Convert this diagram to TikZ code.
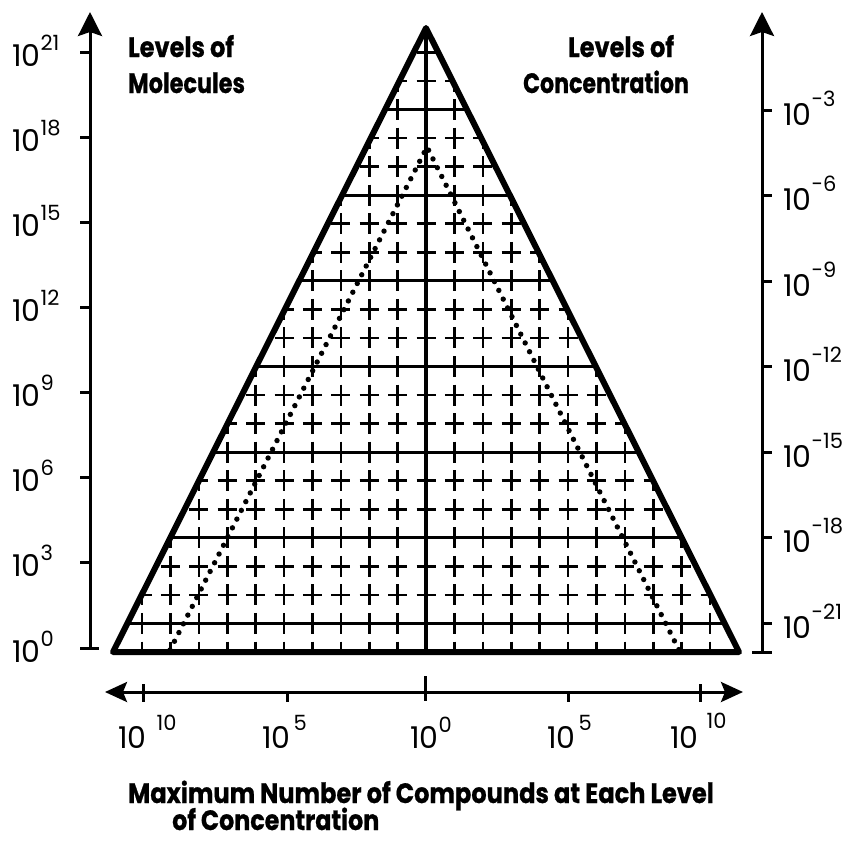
\documentclass[tikz,border=0pt]{standalone}
\usepackage{fontspec}
\setmainfont{Poppins}[BoldFeatures={FakeBold=0.8}]
\usetikzlibrary{arrows.meta,calc}
\newcommand\supnum[2]{\raisebox{#1}{\fontsize{21}{21}\selectfont #2}}
\newcommand\sqz[2]{\scalebox{#1}[1]{#2}}
\begin{document}
\begin{tikzpicture}[x=1pt,y=-1pt,
  tri/.style={line width=6pt,line join=round},
  hline/.style={line width=3.2pt},
  crossmk/.style={line width=2.6pt},
  axis/.style={line width=3pt},
  tickmk/.style={line width=3pt},
  dots/.style={line width=5.4pt,line cap=round,dash pattern=on 0pt off 9.8pt},
  num/.style={inner sep=0pt,anchor=base west,font=\fontsize{30}{30}\selectfont},
  lab/.style={inner sep=0pt,anchor=base west,font=\bfseries\fontsize{28}{28}\selectfont},
  bigtip/.style={-{Stealth[length=24pt,width=24pt,inset=4pt]}},
  bothtip/.style={{Stealth[length=22pt,width=20pt,inset=4pt]}-{Stealth[length=22pt,width=20pt,inset=4pt]}},
]
\useasboundingbox[fill=white] (0,0) rectangle (851,844);

% triangle corners
\coordinate (apex) at (426,28);
\coordinate (bl) at (113,652);
\coordinate (br) at (739,652);
\coordinate (bot) at (426,652);

% crosses
\begin{scope}
\clip (bl) -- (apex) -- (br) -- cycle;
\foreach \k in {0,...,21}{
  \foreach \i in {-11,...,11}{
    \draw[crossmk] ({426+\i*28.4-9.5},{652-\k*28.55}) -- ++(19,0)
                   ({426+\i*28.4},{652-\k*28.55-10.5}) -- ++(0,21);
  }
}
\end{scope}

% horizontal level lines
\foreach \k in {1,4,...,19}{
  \pgfmathsetmacro\tt{\k*28.55/624}
  \draw[hline] ($(bl)!\tt!(apex)$) -- ($(br)!\tt!(apex)$);
}
% centre line
\draw[hline,line width=3.6pt] (apex) -- (bot);

% dotted lines
\coordinate (dtop) at (427,147);
\coordinate (dl) at (170,650);
\coordinate (dr) at (679,650);
\draw[dots] (dl) -- (dtop) -- (dr);

% triangle outline
\draw[tri] (bl) -- (apex) -- (br) -- cycle;

% left axis
\coordinate (lbot) at (90,648);
\coordinate (ltop) at (90,12);
\draw[axis,bigtip] (lbot) -- (ltop);
\draw[tickmk] (80,648) -- (99,648);
\foreach \y/\e in {648/0,562.9/3,477.7/6,392.6/9,307.4/12,222.3/15,137.1/18,52/21}{
  \draw[tickmk] (80,\y) -- (90,\y);
  \node[num] at (12,{\y+14}) {10\supnum{16pt}{\e}};
}

% right axis
\coordinate (rbot) at (762,652);
\coordinate (rtop) at (762,12);
\draw[axis,bigtip] (rbot) -- (rtop);
\draw[tickmk] (752,652) -- (772,652);
\foreach \y/\e in {623.5/21,537.8/18,452.2/15,366.6/12,281/9,195.5/6,110/3}{
  \draw[tickmk] (762,\y) -- (772,\y);
  \node[num] at (783,{\y+15}) {10\supnum{19pt}{-\e}};
}

% bottom axis
\coordinate (xl) at (105,692);
\coordinate (xr) at (743,692);
\draw[axis,bothtip] (xl) -- (xr);
\draw[tickmk] (143,684) -- (143,702);
\draw[tickmk] (287,692) -- (287,702);
\draw[tickmk] (425,676) -- (425,701);
\draw[tickmk] (568,692) -- (568,702);
\draw[tickmk] (700,684) -- (700,702);
\node[num] (b1) at (118,748) {10\hspace{10pt}\supnum{18pt}{10}};
\node[num] (b2) at (262,748) {10\hspace{3pt}\supnum{18pt}{5}};
\node[num] (b3) at (410,748) {10\supnum{16pt}{0}};
\node[num] (b4) at (547,748) {10\hspace{3pt}\supnum{18pt}{5}};
\node[num] (b5) at (670,748) {10\hspace{8pt}\supnum{20pt}{10}};

% labels
\node[lab] (lm1) at (128,57) {\sqz{0.86}{Levels of}};
\node[lab] (lm2) at (128,93) {\sqz{0.80}{Molecules}};
\node[lab] (lc1) at (568,57) {\sqz{0.86}{Levels of}};
\node[lab] (lc2) at (523,93) {\sqz{0.79}{Concentration}};
\node[lab] (cap1) at (128,803) {\sqz{0.86}{Maximum Number of Compounds at Each Level}};
\node[lab] (cap2) at (172,830) {\sqz{0.85}{of Concentration}};
\end{tikzpicture}
\end{document}
